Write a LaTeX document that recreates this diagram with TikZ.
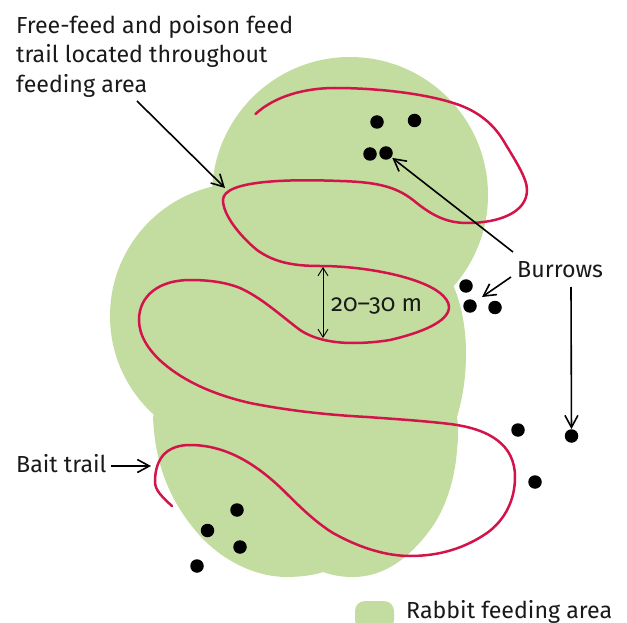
\documentclass[tikz,border=0pt]{standalone}
\usepackage{fontspec}
\setmainfont{Fira Sans}
\usepackage{tikz}
\usetikzlibrary{arrows.meta,positioning}
\definecolor{feedgreen}{HTML}{C3DC9F}
\definecolor{trailred}{HTML}{D2144A}

\begin{document}
\begin{tikzpicture}[
  x=1pt, y=-1pt,
  burrow/.style={circle, fill=black, inner sep=0pt, minimum size=13.5pt},
  lbl/.style={font=\fontsize{23.2}{29.5}\selectfont, anchor=base west, inner sep=0pt, align=left, text=black!90},
  arr/.style={-{Straight Barb[length=12pt,width=13pt]}, line width=1.6pt},
  thinarr/.style={{Straight Barb[length=8pt,width=10pt]}-{Straight Barb[length=8pt,width=10pt]}, line width=0.9pt},
  trail/.style={trailred, line width=2.5pt, line cap=round},
]
\useasboundingbox (0,0) rectangle (627,623);

% --- Feeding area ---
\fill[feedgreen] (350,195) circle (138);
\fill[feedgreen] (243,316) circle (133);
\fill[feedgreen] (453,285) .. controls (462,305) and (466,330) .. (466,353)
  .. controls (466,380) and (462,400) .. (457,417)
  .. controls (459,430) and (458,440) .. (457,450)
  .. controls (455,480) and (445,510) .. (430,530)
  .. controls (410,557) and (385,577) .. (353,577)
  .. controls (340,577) and (332,575) .. (323,572)
  .. controls (315,575) and (300,577) .. (287,577)
  .. controls (250,577) and (215,555) .. (195,530)
  .. controls (170,500) and (155,465) .. (153,417)
  -- (200,250) -- cycle;

% --- Trail ---
\draw[trail] (255.5,114) .. controls (275,96) and (305,88) .. (335,88)
  .. controls (375,88) and (420,93) .. (450,102)
  .. controls (475,109) and (492,122) .. (503,140)
  .. controls (515,160) and (527,178) .. (527,190)
  .. controls (527,212) and (500,223) .. (467,223)
  .. controls (445,223) and (430,214) .. (413,200)
  .. controls (395,186) and (375,182) .. (340,181)
  .. controls (290,179) and (223,180) .. (223,200)
  .. controls (223,215) and (240,236) .. (257,250)
  .. controls (275,263) and (295,266) .. (320,266)
  .. controls (365,266) and (420,277) .. (440,293)
  .. controls (445,297) and (449,302) .. (449,307)
  .. controls (449,322) and (420,333) .. (390,340)
  .. controls (378,342) and (365,343) .. (353,343)
  .. controls (335,343) and (315,340) .. (300,330)
  .. controls (280,315) and (262,298) .. (240,288)
  .. controls (225,282) and (208,280) .. (190,280)
  .. controls (160,280) and (139,295) .. (139,320)
  .. controls (139,335) and (148,350) .. (163,363)
  .. controls (185,382) and (215,395) .. (250,403)
  .. controls (290,411) and (330,415) .. (367,417)
  .. controls (395,419) and (425,421) .. (450,424)
  .. controls (490,429) and (515,445) .. (515,477)
  .. controls (515,500) and (505,520) .. (487,533)
  .. controls (465,548) and (440,556) .. (410,556)
  .. controls (385,556) and (358,547) .. (333,533)
  .. controls (315,522) and (298,505) .. (283,490)
  .. controls (255,463) and (225,445) .. (190,445)
  .. controls (170,445) and (155,455) .. (155,482)
  .. controls (155,490) and (162,497) .. (172,506);

% --- Burrows ---
\node[burrow] (b1) at (377,122) {};
\node[burrow] (b2) at (414.5,120.5) {};
\node[burrow] (b3) at (370,154) {};
\node[burrow] (b4) at (386,153) {};
\node[burrow] (b5) at (466,286) {};
\node[burrow] (b6) at (470,306) {};
\node[burrow] (b7) at (495,307.5) {};
\node[burrow] (b8) at (518,430) {};
\node[burrow] (b9) at (571.5,436) {};
\node[burrow] (b10) at (535,482) {};
\node[burrow] (b11) at (237,510) {};
\node[burrow] (b12) at (207.5,530.5) {};
\node[burrow] (b13) at (240,547) {};
\node[burrow] (b14) at (197,566) {};

% --- Labels ---
\node[lbl] (feedlbl) at (16,92.5) {Free-feed and poison feed\\trail located throughout\\feeding area};
\node[lbl] (burrowlbl) at (517,277) {Burrows};
\node[lbl] (baitlbl) at (16,472) {Bait trail};
\node[lbl, font=\fontsize{24}{29}\selectfont\addfontfeatures{Numbers=OldStyle}] (dist) at (331,311) {20–30 m};
\node[lbl] (arealbl) at (406,618) {Rabbit feeding area};
\fill[feedgreen, rounded corners=10pt] (355,601) rectangle (394,630);

% --- Pointers ---
\coordinate (feedstart) at (137,101);
\coordinate (feedend) at (225,188);
\coordinate (burrowa) at (513,252);
\coordinate (burrowb) at (511,277);
\coordinate (burrowc) at (571,287);
\coordinate (burrowbend) at (482,297);
\coordinate (baitend) at (151,466);
\coordinate (disttop) at (323,267);
\coordinate (distbot) at (323,338);
\draw[arr] (feedstart) -- (feedend);
\draw[arr, shorten >=1pt] (burrowa) -- (b4);
\draw[arr] (burrowb) -- (burrowbend);
\draw[arr] (burrowc) -- (b9);
\draw[arr, shorten <=4pt] (baitlbl.base east |- baitend) -- (baitend);
\draw[thinarr] (disttop) -- (distbot);
\end{tikzpicture}
\end{document}
